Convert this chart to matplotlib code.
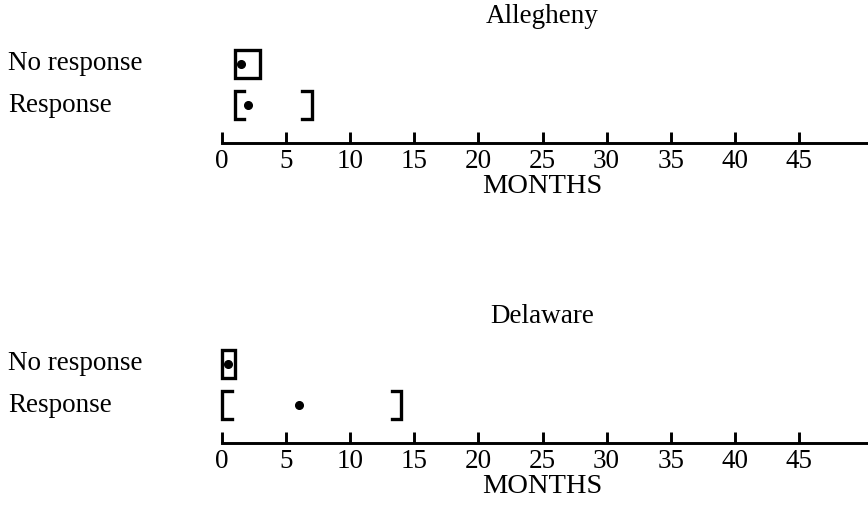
import matplotlib
matplotlib.use("Agg")
import matplotlib.pyplot as plt
from matplotlib.patches import Rectangle
from matplotlib.transforms import blended_transform_factory

plt.rcParams["font.family"] = ["Liberation Serif", "DejaVu Serif"]

# data (months)
regions = ["Allegheny", "Delaware"]
row_labels = ["No response", "Response"]
no_resp_low = [1, 0]
no_resp_high = [3, 1]
no_resp_mid = [1.5, 0.5]
resp_low = [1, 0]
resp_high = [7, 14]
resp_mid = [2, 6]
month_ticks = [0, 5, 10, 15, 20, 25, 30, 35, 40, 45]

W, H = 868, 511
fig = plt.figure(figsize=(W / 100, H / 100), dpi=100)

px_month = 12.82      # pixels per month
x0_px = 222           # pixel of month 0
row_px = 41           # pixels per row
row0_px = 64          # pixel of first row inside panel
axis_row = (143 - row0_px) / row_px
half_h = 13.7 / row_px
serif = 0.75
lw = 2.1

panels = [(0, 300), (300, H)]
for i, name in enumerate(regions):
    top, bot = panels[i]
    ax = fig.add_axes([0, (H - bot) / H, 1, (bot - top) / H])
    ax.set_xlim(-x0_px / px_month, (W - x0_px) / px_month)
    ax.set_ylim((bot - top - row0_px) / row_px, -row0_px / row_px)
    for s in ["top", "left", "right"]:
        ax.spines[s].set_visible(False)
    ax.spines["bottom"].set_position(("data", axis_row))
    ax.spines["bottom"].set_bounds(0, (W - x0_px) / px_month)
    ax.spines["bottom"].set_linewidth(lw)
    ax.set_yticks([])
    ax.set_xticks(month_ticks)
    ax.tick_params(axis="x", direction="in", length=8, width=lw, pad=4.5,
                   labelsize=19.5)
    ax.patch.set_visible(False)

    # no response: closed box with median dot
    ax.add_patch(Rectangle((no_resp_low[i], 0 - half_h),
                           no_resp_high[i] - no_resp_low[i], 2 * half_h,
                           fill=False, lw=lw + 0.3, ec="black"))
    ax.plot([no_resp_mid[i]], [0], "o", color="black", ms=5.5)

    # response: open brackets with median dot
    lo, hi = resp_low[i], resp_high[i]
    ax.plot([lo + serif, lo, lo, lo + serif],
            [1 - half_h, 1 - half_h, 1 + half_h, 1 + half_h],
            color="black", lw=lw + 0.3, solid_joinstyle="miter")
    ax.plot([hi - serif, hi, hi, hi - serif],
            [1 - half_h, 1 - half_h, 1 + half_h, 1 + half_h],
            color="black", lw=lw + 0.3, solid_joinstyle="miter")
    ax.plot([resp_mid[i]], [1], "o", color="black", ms=5.5)

    tr = blended_transform_factory(ax.transAxes, ax.transData)
    for r, lab in enumerate(row_labels):
        ax.text(8 / W, r, lab, transform=tr, fontsize=19.5,
                ha="left", va="center")

    ax.text(25, -1.15, name, fontsize=19.5, ha="center", va="center")
    ax.text(25, 2.98, "MONTHS", fontsize=20.5, ha="center", va="center")

fig.savefig("out.png", dpi=100)
